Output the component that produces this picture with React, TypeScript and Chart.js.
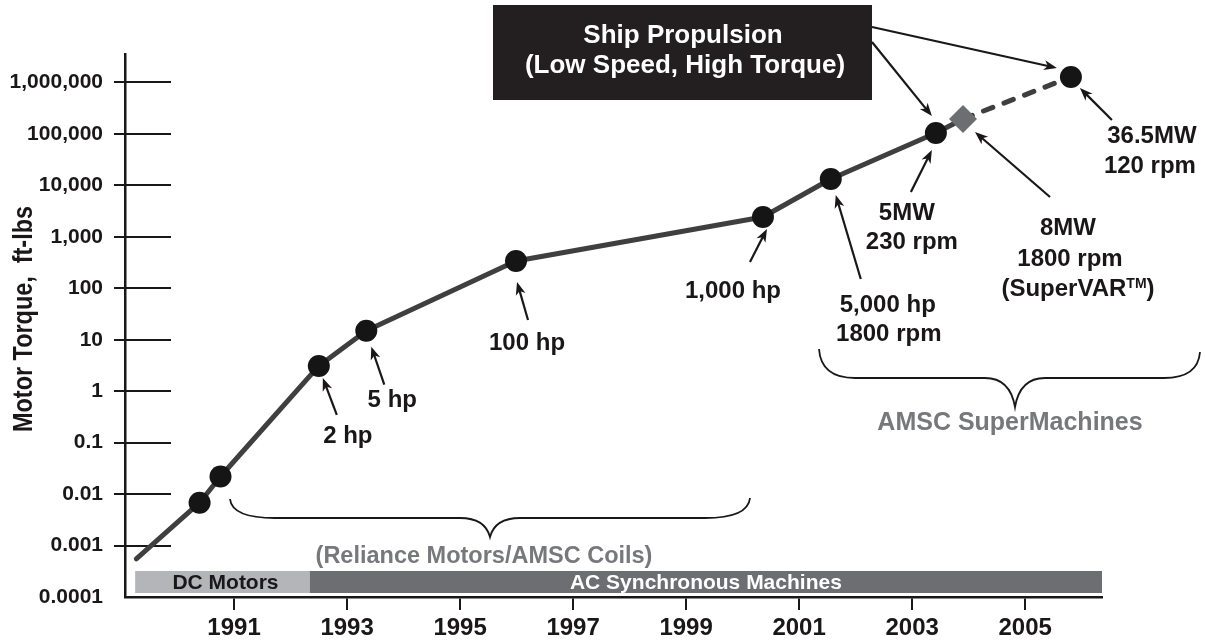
import React, { useEffect, useRef } from 'react';
import { Chart, registerables } from 'chart.js';

Chart.register(...registerables);

// ---------------- data ----------------
const years = [1989.27, 1990.39, 1990.76, 1992.5, 1993.34, 1995.99, 2000.36, 2001.56, 2003.42, 2003.9, 2005.81];
const torque = [0.00055, 0.0068, 0.022, 3.1, 15, 340, 2430, 13300, 104000, 195000, 1280000];
const markerKind = ['none', 'circle', 'circle', 'circle', 'circle', 'circle', 'circle', 'circle', 'circle', 'diamond', 'circle'];
const dashedFromIndex = 9;

const yTickValues = [0.0001, 0.001, 0.01, 0.1, 1, 10, 100, 1000, 10000, 100000, 1000000];
const yTickLabels = ['0.0001', '0.001', '0.01', '0.1', '1', '10', '100', '1,000', '10,000', '100,000', '1,000,000'];
const xTickYears = [1991, 1993, 1995, 1997, 1999, 2001, 2003, 2005];

const eraLabels = ['DC Motors', 'AC Synchronous Machines'];
const eraStart = [1989.25, 1992.34];
const eraEnd = [1992.34, 2006.36];

const pointLabels: string[][] = [
  [], [], [],
  ['2 hp'],
  ['5 hp'],
  ['100 hp'],
  ['1,000 hp'],
  ['5,000 hp', '1800 rpm'],
  ['5MW', '230 rpm'],
  ['8MW', '1800 rpm', '(SuperVAR{TM})'],
  ['36.5MW', '120 rpm'],
];

const yTitle = 'Motor Torque,  ft-lbs';
const shipLines = ['Ship Propulsion', '(Low Speed, High Torque)'];
const groupLabels = ['(Reliance Motors/AMSC Coils)', 'AMSC SuperMachines'];

// ---------------- layout of annotations (pixel offsets from each point) ----------------
// label: [dx, dy of cap-middle] per line ; arrow: [sx, sy, tx, ty]
const noteLayout: Record<number, { lines: number[][]; arrow: number[] }> = {
  3: { lines: [[29, 68]], arrow: [18, 49, 4, 12] },
  4: { lines: [[26, 68]], arrow: [18, 54, 5, 16] },
  5: { lines: [[11, 80]], arrow: [12, 59, 1, 21] },
  6: { lines: [[-30, 72]], arrow: [-13, 45, 4, 12] },
  7: { lines: [[57, 124], [58, 153]], arrow: [30, 100, 5, 16] },
  8: { lines: [[-29, 78], [-24, 107]], arrow: [-25, 59, -4, 17] },
  9: { lines: [[105, 107], [107, 138], [115, 168]], arrow: [87, 78, 12, 13] },
  10: { lines: [[81, 57], [79, 87]], arrow: [41, 43, 9, 11] },
};

const FONT = "'Liberation Sans', Arial, Helvetica, sans-serif";
const INK = '#1a1718';
const GRAY_TEXT = '#77787b';

function drawArrow(ctx: CanvasRenderingContext2D, x1: number, y1: number, x2: number, y2: number) {
  const a = Math.atan2(y2 - y1, x2 - x1);
  const c = Math.cos(a), s = Math.sin(a);
  const L = 13, W = 5;
  ctx.strokeStyle = INK;
  ctx.fillStyle = INK;
  ctx.lineWidth = 2.2;
  ctx.lineCap = 'butt';
  ctx.beginPath();
  ctx.moveTo(x1, y1);
  ctx.lineTo(x2 - c * 8, y2 - s * 8);
  ctx.stroke();
  const bx = x2 - c * L, by = y2 - s * L;
  const nx = x2 - c * L * 0.72, ny = y2 - s * L * 0.72;
  ctx.beginPath();
  ctx.moveTo(x2, y2);
  ctx.lineTo(bx - s * W, by + c * W);
  ctx.lineTo(nx, ny);
  ctx.lineTo(bx + s * W, by - c * W);
  ctx.closePath();
  ctx.fill();
}

// supports {..} as superscript
function drawRich(ctx: CanvasRenderingContext2D, text: string, cx: number, baseline: number, size: number, color: string) {
  const parts: { t: string; sup: boolean }[] = [];
  const re = /\{([^}]*)\}/g;
  let last = 0;
  let m: RegExpExecArray | null;
  while ((m = re.exec(text))) {
    if (m.index > last) parts.push({ t: text.slice(last, m.index), sup: false });
    parts.push({ t: m[1], sup: true });
    last = m.index + m[0].length;
  }
  if (last < text.length) parts.push({ t: text.slice(last), sup: false });
  const supSize = Math.round(size * 0.6);
  let total = 0;
  const widths = parts.map((p) => {
    ctx.font = `bold ${p.sup ? supSize : size}px ${FONT}`;
    const w = ctx.measureText(p.t).width;
    total += w;
    return w;
  });
  let x = cx - total / 2;
  ctx.fillStyle = color;
  ctx.textAlign = 'left';
  ctx.textBaseline = 'alphabetic';
  parts.forEach((p, i) => {
    ctx.font = `bold ${p.sup ? supSize : size}px ${FONT}`;
    const yb = p.sup ? baseline - (size - supSize) * 0.716 : baseline;
    ctx.fillText(p.t, x, yb);
    x += widths[i];
  });
}

function drawBrace(ctx: CanvasRenderingContext2D, x1: number, yEnd1: number, x2: number, yEnd2: number, yMid: number, xTip: number, yTip: number, hook: number) {
  ctx.beginPath();
  ctx.moveTo(x1, yEnd1);
  ctx.quadraticCurveTo(x1 + 2, yMid, x1 + hook, yMid);
  ctx.lineTo(xTip - 30, yMid);
  ctx.quadraticCurveTo(xTip - 5, yMid, xTip, yTip);
  ctx.quadraticCurveTo(xTip + 5, yMid, xTip + 30, yMid);
  ctx.lineTo(x2 - hook, yMid);
  ctx.quadraticCurveTo(x2 - 2, yMid, x2, yEnd2);
  ctx.strokeStyle = INK;
  ctx.lineWidth = 1.8;
  ctx.stroke();
}

const overlay = {
  id: 'overlay',
  beforeDatasetsDraw(chart: any) {
    const { ctx, chartArea, scales } = chart;
    const x = scales.x, y = scales.y;
    ctx.save();
    // inner part of y tick marks
    ctx.strokeStyle = INK;
    ctx.lineWidth = 2;
    yTickValues.forEach((v, i) => {
      if (i === 0) return;
      const py = Math.round(y.getPixelForValue(v));
      ctx.beginPath();
      ctx.moveTo(chartArea.left, py);
      ctx.lineTo(chartArea.left + 46, py);
      ctx.stroke();
    });
    // era bars
    const barTop = chartArea.bottom - 26;
    const barH = 22;
    const colors = ['#b3b5b8', '#6d6e71'];
    const txtColors = [INK, '#ffffff'];
    eraLabels.forEach((lab, i) => {
      const xa = x.getPixelForValue(eraStart[i]);
      const xb = x.getPixelForValue(eraEnd[i]);
      ctx.fillStyle = colors[i];
      ctx.fillRect(xa, barTop, xb - xa, barH);
      ctx.font = `bold 21px ${FONT}`;
      ctx.fillStyle = txtColors[i];
      ctx.textAlign = 'center';
      ctx.textBaseline = 'alphabetic';
      ctx.fillText(lab, (xa + xb) / 2 + (i === 0 ? 3 : 0), barTop + 18);
    });
    ctx.restore();
  },
  afterDraw(chart: any) {
    const { ctx, scales } = chart;
    const x = scales.x, y = scales.y;
    ctx.save();

    // y axis title (condensed)
    ctx.save();
    ctx.translate(32, 319);
    ctx.rotate(-Math.PI / 2);
    ctx.font = `bold 27px ${FONT}`;
    const tw = ctx.measureText(yTitle).width;
    ctx.scale(226 / tw, 1);
    ctx.fillStyle = INK;
    ctx.textAlign = 'center';
    ctx.textBaseline = 'alphabetic';
    ctx.fillText(yTitle, 0, 0);
    ctx.restore();

    // braces
    drawBrace(ctx, 230, 499, 750, 498, 518, 490, 537, 45);
    drawBrace(ctx, 819, 349, 1200, 352, 378, 1015, 407, 36);

    // group labels
    ctx.font = `bold 23.5px ${FONT}`;
    ctx.fillStyle = GRAY_TEXT;
    ctx.textAlign = 'center';
    ctx.textBaseline = 'alphabetic';
    ctx.fillText(groupLabels[0], 484, 563);
    ctx.font = `bold 25px ${FONT}`;
    ctx.fillText(groupLabels[1], 1010, 430);

    // point labels + arrows
    const size = 24;
    Object.keys(noteLayout).forEach((k) => {
      const i = Number(k);
      const lay = noteLayout[i];
      const px = x.getPixelForValue(years[i]);
      const py = y.getPixelForValue(torque[i]);
      const [sx, sy, tx, ty] = lay.arrow;
      drawArrow(ctx, px + sx, py + sy, px + tx, py + ty);
      pointLabels[i].forEach((line, j) => {
        const [dx, dy] = lay.lines[j];
        drawRich(ctx, line, px + dx, py + dy + size * 0.358, size, INK);
      });
    });

    // ship propulsion box
    ctx.fillStyle = '#231f20';
    ctx.fillRect(493, 5, 379, 95);
    drawRich(ctx, shipLines[0], 683, 43, 26, '#ffffff');
    drawRich(ctx, shipLines[1], 685, 73, 26, '#ffffff');
    const p9x = x.getPixelForValue(years[10]);
    const p9y = y.getPixelForValue(torque[10]);
    const p8x = x.getPixelForValue(years[8]);
    const p8y = y.getPixelForValue(torque[8]);
    drawArrow(ctx, 872, 27, p9x - 14, p9y - 9);
    drawArrow(ctx, 872, 42, p8x - 4, p8y - 17);

    ctx.restore();
  },
};

export default function App() {
  const ref = useRef<HTMLCanvasElement>(null);
  useEffect(() => {
    document.body.style.margin = '0';
    const canvas = ref.current!;
    const chart = new Chart(canvas, {
      type: 'line',
      data: {
        datasets: [
          {
            label: 'Motor torque',
            data: years.map((yr, i) => ({ x: yr, y: torque[i] })),
            borderColor: '#3f3f40',
            borderWidth: 5,
            borderCapStyle: 'round',
            borderJoinStyle: 'round',
            tension: 0,
            fill: false,
            pointStyle: markerKind.map((k) => (k === 'diamond' ? 'rectRot' : 'circle')) as any,
            pointRadius: markerKind.map((k) => (k === 'none' ? 0 : k === 'diamond' ? 14 : 11)),
            pointHoverRadius: markerKind.map((k) => (k === 'none' ? 0 : k === 'diamond' ? 14 : 11)),
            pointBackgroundColor: markerKind.map((k) => (k === 'diamond' ? '#6d6e71' : '#151515')),
            pointBorderWidth: 0,
            pointBorderColor: 'rgba(0,0,0,0)',
            segment: {
              borderDash: (c: any) => (c.p0DataIndex >= dashedFromIndex ? [10, 12] : []),
            },
          } as any,
        ],
      },
      options: {
        animation: false,
        responsive: false,
        devicePixelRatio: 1,
        events: [],
        layout: { padding: { top: 54, right: 103, left: 0, bottom: 0 } },
        plugins: { legend: { display: false }, tooltip: { enabled: false }, title: { display: false } },
        scales: {
          x: {
            type: 'linear',
            min: 1989.07,
            max: 2006.36,
            afterBuildTicks: (s: any) => {
              s.ticks = xTickYears.map((v) => ({ value: v }));
            },
            afterFit: (s: any) => {
              s.height = 44;
            },
            ticks: {
              autoSkip: false,
              maxRotation: 0,
              padding: 4,
              color: INK,
              font: { family: FONT, size: 24, weight: 'bold' },
              callback: (v: any) => String(v),
            },
            grid: { drawOnChartArea: false, drawTicks: true, tickLength: 13, color: INK, lineWidth: 2 },
            border: { display: true, color: INK, width: 2.5 },
          },
          y: {
            type: 'logarithmic',
            min: 0.0001,
            max: 3580000,
            afterBuildTicks: (s: any) => {
              s.ticks = yTickValues.map((v) => ({ value: v }));
            },
            afterFit: (s: any) => {
              s.width = 125;
            },
            ticks: {
              autoSkip: false,
              padding: 11,
              color: INK,
              font: { family: FONT, size: 21, weight: 'bold' },
              callback: (v: any) => {
                const i = yTickValues.indexOf(v);
                return i >= 0 ? yTickLabels[i] : '';
              },
            },
            grid: {
              drawOnChartArea: false,
              drawTicks: true,
              tickLength: 11,
              lineWidth: 2,
              color: (c: any) => (c.tick && c.tick.value === yTickValues[0] ? 'rgba(0,0,0,0)' : INK),
            },
            border: { display: true, color: INK, width: 2.5 },
          },
        },
      } as any,
      plugins: [overlay],
    });
    return () => chart.destroy();
  }, []);
  return (
    <div style={{ width: 1205, height: 641, position: 'relative' }}>
      <canvas ref={ref} width={1205} height={641} style={{ display: 'block' }} />
    </div>
  );
}
